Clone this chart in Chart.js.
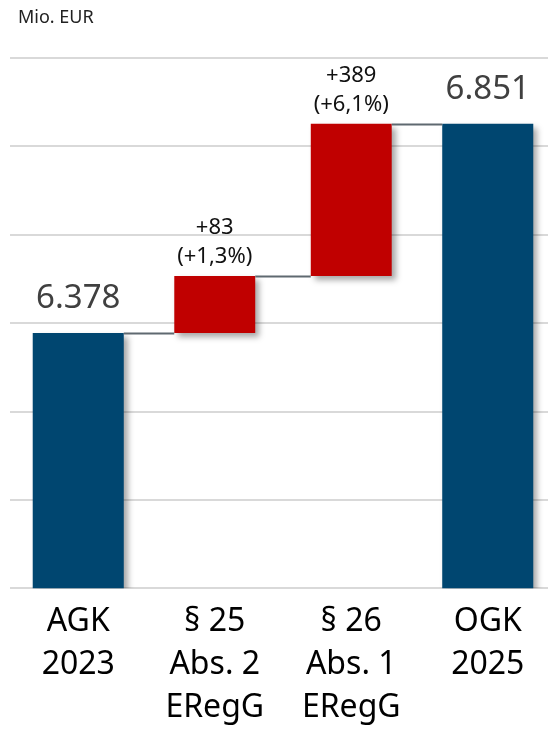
<!DOCTYPE html>
<html>
<head>
<meta charset="utf-8">
<script src="https://cdn.jsdelivr.net/npm/chart.js@4/dist/chart.umd.min.js"></script>
<style>
  html, body { margin: 0; padding: 0; background: #fff; overflow: hidden; }
  #wrap { width: 556px; height: 729px; }
</style>
</head>
<body>
<div id="wrap"><canvas id="wf-chart" width="556" height="729"></canvas></div>
<script>
// categories (multi-line tick labels)
var categories = [
  ["AGK", "2023"],
  ["§ 25", "Abs. 2", "ERegG"],
  ["§ 26", "Abs. 1", "ERegG"],
  ["OGK", "2025"]
];
// totals (blue bars), in Mio. EUR
var totals = [6378, null, null, 6851];
// change steps (red bars) as drawn: from / to
var stepFrom = [null, 6378, 6507, null];
var stepTo = [null, 6507, 6851, null];
var totalLabels = ["6.378", "", "", "6.851"];
var deltaLabels = [null, ["+83", "(+1,3%)"], ["+389", "(+6,1%)"], null];
// y axis range
var yMin = 5800, yMax = 7000, yStep = 200;

var FONT = "'Noto Sans', sans-serif";

var stepData = stepFrom.map(function (v, i) {
  return v === null ? null : [v, stepTo[i]];
});

var shadowPlugin = {
  id: "barShadow",
  beforeDatasetsDraw: function (chart) {
    var ctx = chart.ctx;
    ctx.save();
    ctx.shadowColor = "rgba(0,0,0,0.35)";
    ctx.shadowBlur = 6;
    ctx.shadowOffsetX = 4;
    ctx.shadowOffsetY = 4;
  },
  afterDatasetsDraw: function (chart) {
    chart.ctx.restore();
  }
};

var annotatePlugin = {
  id: "wfAnnotate",
  afterDatasetsDraw: function (chart) {
    var ctx = chart.ctx;
    var y = chart.scales.y;
    var mTot = chart.getDatasetMeta(0).data;
    var mStep = chart.getDatasetMeta(1).data;
    // pick the drawn bar for each category
    var bars = categories.map(function (c, i) {
      return totals[i] !== null ? mTot[i] : mStep[i];
    });
    // connector levels
    var levels = categories.map(function (c, i) {
      return totals[i] !== null ? totals[i] : stepTo[i];
    });

    ctx.save();
    ctx.strokeStyle = "#5f6970";
    ctx.lineWidth = 2;
    for (var i = 0; i < bars.length - 1; i++) {
      var a = bars[i], b = bars[i + 1];
      var ly = Math.round(y.getPixelForValue(levels[i])) + 0.5;
      ctx.beginPath();
      ctx.moveTo(a.x + a.width / 2, ly);
      ctx.lineTo(b.x - b.width / 2, ly);
      ctx.stroke();
    }

    ctx.textAlign = "center";
    ctx.textBaseline = "middle";
    // total labels
    ctx.fillStyle = "#404040";
    ctx.font = "33px " + FONT;
    totals.forEach(function (v, i) {
      if (v === null) return;
      var bar = mTot[i];
      ctx.fillText(totalLabels[i], bar.x, bar.y - 34);
    });
    // delta labels
    ctx.fillStyle = "#111";
    ctx.font = "22px " + FONT;
    deltaLabels.forEach(function (lines, i) {
      if (!lines) return;
      var bar = mStep[i];
      var top = Math.min(bar.y, bar.base);
      ctx.fillText(lines[1], bar.x, top - 19);
      ctx.fillText(lines[0], bar.x, top - 48);
    });

    // unit caption
    ctx.fillStyle = "#222";
    ctx.font = "18px " + FONT;
    ctx.textAlign = "left";
    ctx.fillText("Mio. EUR", 18, 18);
    ctx.restore();
  }
};

var config = {
  type: "bar",
  data: {
    labels: categories,
    datasets: [
      {
        label: "Gesamt",
        data: totals,
        backgroundColor: "#004670",
        barPercentage: 0.667,
        categoryPercentage: 1
      },
      {
        label: "Veränderung",
        data: stepData,
        backgroundColor: "#c00000",
        barPercentage: 0.593,
        categoryPercentage: 1
      }
    ]
  },
  options: {
    responsive: false,
    animation: false,
    layout: { padding: { top: 58, left: 10, right: 0, bottom: -4 } },
    plugins: {
      legend: { display: false },
      tooltip: { enabled: false }
    },
    scales: {
      x: {
        stacked: true,
        grid: { display: false },
        border: { display: false },
        ticks: {
          color: "#000",
          padding: 4,
          maxRotation: 0,
          font: { family: FONT, size: 32, lineHeight: 1.34 }
        }
      },
      y: {
        min: yMin,
        max: yMax,
        grid: { color: "#d9d9d9", lineWidth: 2, drawTicks: false },
        border: { display: false },
        ticks: { display: false, stepSize: yStep }
      }
    }
  },
  plugins: [shadowPlugin, annotatePlugin]
};

window.onload = function () {
  var ctx = document.getElementById("wf-chart").getContext("2d");
  window.myChart = new Chart(ctx, config);
};
</script>
</body>
</html>
